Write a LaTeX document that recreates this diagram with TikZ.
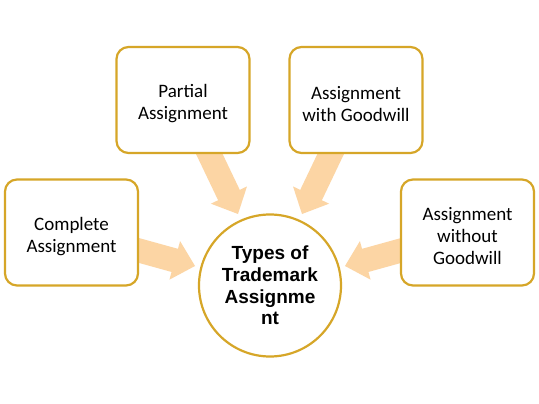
\documentclass[tikz,border=0pt]{standalone}
\usepackage{fontspec}
\setmainfont{Carlito}
\newfontfamily\arialfont{Liberation Sans}
\usetikzlibrary{calc}
\definecolor{goldline}{RGB}{214,166,40}
\definecolor{arrowfill}{RGB}{252,213,164}
\newcommand\blockarrow[2]{%
  \coordinate (#1base) at ($(#2)!21pt!(#1)$);
  \fill[arrowfill] ($(#1)!12pt!90:(#2)$) -- ($(#1base)!12pt!90:(#2)$) --
    ($(#1base)!20pt!90:(#2)$) -- (#2) -- ($(#1base)!20pt!-90:(#2)$) --
    ($(#1base)!12pt!-90:(#2)$) -- ($(#1)!12pt!-90:(#2)$) -- cycle;
}
\newcommand\lowstrut{\rule{0pt}{20.5pt}}
\tikzset{
  boxnode/.style={draw=goldline, line width=2.2pt, rounded corners=12pt, fill=white,
    minimum width=133pt, minimum height=106pt, align=center,
    font=\fontsize{19}{22}\selectfont, inner sep=0pt},
  hubnode/.style={draw=goldline, line width=2.2pt, circle, fill=white,
    minimum size=142pt, align=center, inner sep=0pt,
    font=\arialfont\bfseries\fontsize{19}{21.7}\selectfont},
}
\begin{document}
\begin{tikzpicture}[x=1pt,y=-1pt]
\useasboundingbox[fill=white] (0,0) rectangle (539,404);
% arrow coordinates
\coordinate (sC) at (130,248);  \coordinate (tC) at (195,266);
\coordinate (sP) at (205,145);  \coordinate (tP) at (238,214);
\coordinate (sG) at (335,145);  \coordinate (tG) at (302,214);
\coordinate (sW) at (410,248);  \coordinate (tW) at (345,266);
\blockarrow{sC}{tC}
\blockarrow{sP}{tP}
\blockarrow{sG}{tG}
\blockarrow{sW}{tW}
% nodes
\node[boxnode] (complete) at (71.5,232.5) {\lowstrut Complete\\Assignment};
\node[boxnode] (partial) at (183,100) {\lowstrut Partial\\Assignment};
\node[boxnode] (goodwill) at (356,100) {\lowstrut Assignment\\with Goodwill};
\node[boxnode] (without) at (467.5,232.5) {\lowstrut Assignment\\without\\Goodwill};
\node[hubnode] (hub) at (270,285.5) {Types of\\Trademark\\Assignme\\nt};
\end{tikzpicture}
\end{document}
